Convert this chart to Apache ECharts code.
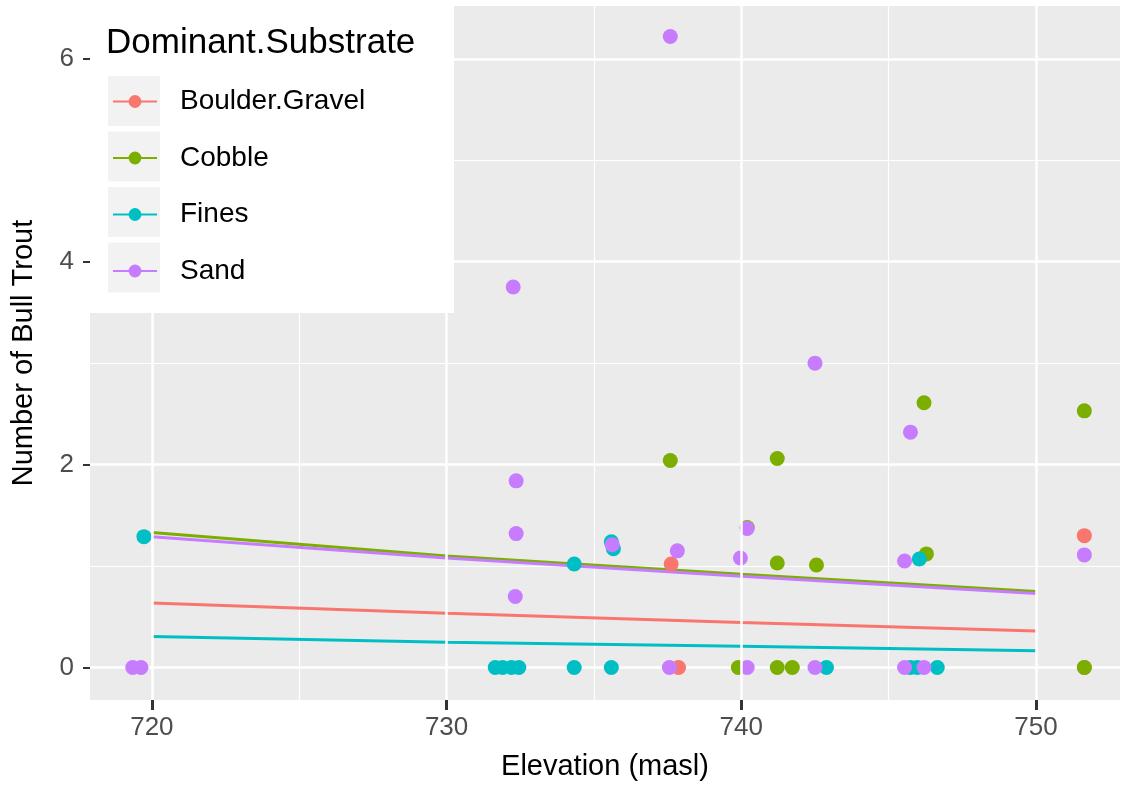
<!DOCTYPE html>
<html>
<head>
<meta charset="utf-8">
<script src="https://cdn.jsdelivr.net/npm/echarts@6/dist/echarts.min.js"></script>
<style>
html,body{margin:0;padding:0;background:#fff;}
#chart{width:1125px;height:787px;}
</style>
</head>
<body>
<div id="chart"></div>
<script>
// ---- data ----
const categories = ['Boulder.Gravel', 'Cobble', 'Fines', 'Sand'];
const colors = ['#F8766D', '#7CAE00', '#00BFC4', '#C77CFF'];

const boulderPts = [[737.62,1.02],[737.87,0],[751.64,1.30],[751.64,0]];
const cobblePts = [[737.59,2.04],[741.22,2.06],[741.22,1.03],[739.9,0],[741.22,0],[741.73,0],
  [742.55,1.01],[746.2,2.61],[746.28,1.12],[751.64,2.53],[740.2,1.38],[751.64,0]];
const finesPts = [[719.73,1.29],[731.65,0],[731.9,0],[732.2,0],[732.45,0],[734.33,1.02],[734.33,0],
  [735.59,1.24],[735.66,1.17],[735.59,0],[742.89,0],[745.74,0],[745.97,0],[746.65,0],[746.04,1.07]];
const sandPts = [[719.35,0],[719.63,0],[732.26,3.75],[732.36,1.84],[732.36,1.32],[732.33,0.70],
  [735.62,1.21],[737.59,6.22],[737.83,1.15],[737.56,0],[739.97,1.08],[740.2,1.37],[740.2,0],
  [742.5,3.0],[742.5,0],[745.74,2.32],[745.54,1.05],[745.54,0],[746.2,0],[751.64,1.11]];

const fitX = [720, 730, 740, 750];
const boulderFit = [0.635, 0.535, 0.445, 0.36];
const cobbleFit = [1.33, 1.10, 0.92, 0.75];
const finesFit = [0.305, 0.25, 0.21, 0.165];
const sandFit = [1.29, 1.08, 0.90, 0.73];

const xMajor = [720, 730, 740, 750];
const xMinor = [725, 735, 745];
const yMajor = [0, 2, 4, 6];
const yMinor = [1, 3, 5];

const pointSets = [boulderPts, cobblePts, finesPts, sandPts];
const fitSets = [boulderFit, cobbleFit, finesFit, sandFit];

// ---- chart ----
const FONT = "'Liberation Sans', Arial, Helvetica, sans-serif";
const chart = echarts.init(document.getElementById('chart'));

const series = [];
categories.forEach((name, i) => {
  const s = {
    name: name, type: 'line', smooth: false, showSymbol: false, symbol: 'circle',
    data: fitX.map((x, k) => [x, fitSets[i][k]]),
    itemStyle: {color: colors[i]},
    lineStyle: {color: colors[i], width: 3},
    z: 2, silent: true, animation: false
  };
  if (i === 0) {
    s.markLine = {
      silent: true, z: 1, symbol: ['none', 'none'], animation: false,
      label: {show: false},
      emphasis: {disabled: true},
      lineStyle: {color: '#ffffff', width: 1.2, type: 'solid'},
      data: xMinor.map(v => ({xAxis: v}))
    };
  }
  series.push(s);
});
categories.forEach((name, i) => {
  series.push({
    name: name, type: 'scatter', symbol: 'circle', symbolSize: 15,
    data: pointSets[i],
    itemStyle: {color: colors[i], opacity: 1},
    z: 3, animation: false
  });
});

const XMIN = 717.9, XMAX = 752.85, YMIN = -0.32, YMAX = 6.52;
const tickLabel = {color: '#4d4d4d', fontSize: 26, fontFamily: FONT};

const option = {
  animation: false,
  backgroundColor: '#ffffff',
  grid: {left: 90, right: 5, top: 6, bottom: 87, show: true, backgroundColor: '#ebebeb', borderWidth: 0},
  xAxis: [
    {
      type: 'value', min: XMIN, max: XMAX, position: 'bottom',
      name: 'Elevation (masl)', nameLocation: 'middle', nameGap: 52,
      nameTextStyle: {color: '#000', fontSize: 29, fontFamily: FONT},
      axisLine: {show: false, onZero: false},
      axisTick: {show: true, inside: false, customValues: xMajor, length: 10, lineStyle: {color: '#333333', width: 3}},
      axisLabel: Object.assign({customValues: xMajor, margin: 15, formatter: v => String(v)}, tickLabel),
      splitLine: {show: true, lineStyle: {color: '#ffffff', width: 2.5}},
      z: 6
    }
  ],
  yAxis: [
    {
      type: 'value', min: YMIN, max: YMAX, position: 'left',
      name: 'Number of Bull Trout', nameLocation: 'middle', nameGap: 52,
      nameTextStyle: {color: '#000', fontSize: 29, fontFamily: FONT},
      axisLine: {show: false, onZero: false},
      axisTick: {show: true, customValues: yMajor, length: 7, lineStyle: {color: '#333', width: 2}},
      axisLabel: Object.assign({customValues: yMajor, margin: 16, formatter: v => String(v)}, tickLabel),
      splitLine: {show: true, lineStyle: {color: '#ffffff', width: 2.5}}
    },
    {
      type: 'value', min: YMIN, max: YMAX, position: 'right',
      axisLine: {show: false, onZero: false},
      axisTick: {show: false, customValues: yMinor},
      axisLabel: {show: false, customValues: yMinor},
      splitLine: {show: true, lineStyle: {color: '#ffffff', width: 1.2}}
    }
  ],
  legend: {
    data: categories,
    orient: 'vertical', left: 112, top: 87.5, padding: 0,
    itemWidth: 44, itemHeight: 16, itemGap: 28.5,
    textStyle: {color: '#000', fontSize: 28, fontFamily: FONT, padding: [0, 0, 0, 18]},
    selectedMode: false,
    z: 10
  },
  graphic: [
    {type: 'rect', left: 90, top: 0, z: 8, shape: {width: 364, height: 313}, style: {fill: '#ffffff'}, silent: true},
    {type: 'rect', left: 108, top: 76, z: 9, shape: {width: 52, height: 50}, style: {fill: '#f2f2f2'}, silent: true},
    {type: 'rect', left: 108, top: 131.5, z: 9, shape: {width: 52, height: 50}, style: {fill: '#f2f2f2'}, silent: true},
    {type: 'rect', left: 108, top: 187, z: 9, shape: {width: 52, height: 50}, style: {fill: '#f2f2f2'}, silent: true},
    {type: 'rect', left: 108, top: 242.5, z: 9, shape: {width: 52, height: 50}, style: {fill: '#f2f2f2'}, silent: true},
    {type: 'text', x: 106, y: 43, z: 9, silent: true,
     style: {text: 'Dominant.Substrate', fill: '#000', font: "35px 'Liberation Sans', Arial, sans-serif", textVerticalAlign: 'middle', verticalAlign: 'middle'}}
  ],
  series: series
};
chart.setOption(option);
</script>
</body>
</html>
